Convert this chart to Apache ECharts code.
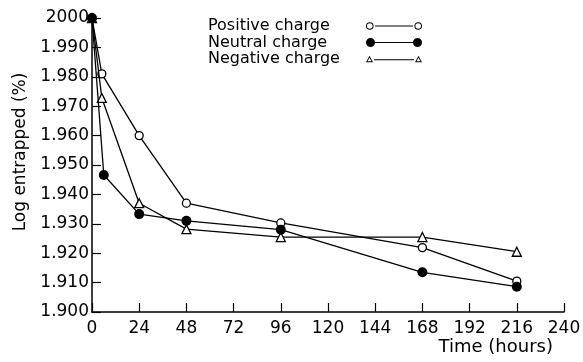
<!DOCTYPE html>
<html>
<head>
<meta charset="utf-8">
<script src="https://cdn.jsdelivr.net/npm/echarts@6/dist/echarts.min.js"></script>
<style>
  html, body { margin: 0; padding: 0; background: #fff; }
  #chart { width: 583px; height: 362px; }
</style>
</head>
<body>
<div id="chart"></div>
<script>
// data (time in hours, log % entrapped)
const seriesNames = ['Positive charge', 'Neutral charge', 'Negative charge']
const positiveTime = [0, 5, 24, 48, 96, 168, 216]
const positiveValues = [2.000, 1.981, 1.960, 1.937, 1.9303, 1.9219, 1.9105]
const neutralTime = [0, 6, 24, 48, 96, 168, 216]
const neutralValues = [2.000, 1.9466, 1.9333, 1.931, 1.928, 1.9135, 1.9086]
const negativeTime = [0, 5, 24, 48, 96, 168, 216]
const negativeValues = [2.000, 1.9728, 1.937, 1.9282, 1.9255, 1.9255, 1.9205]

const font = 'DejaVu Sans'

// legend icons: symbol - line - symbol
const ring = (cx, cy, r, ri) =>
  `M${cx - r} ${cy} A${r} ${r} 0 1 1 ${cx + r} ${cy} A${r} ${r} 0 1 1 ${cx - r} ${cy} Z ` +
  `M${cx - ri} ${cy} A${ri} ${ri} 0 1 0 ${cx + ri} ${cy} A${ri} ${ri} 0 1 0 ${cx - ri} ${cy} Z `
const disc = (cx, cy, r) =>
  `M${cx - r} ${cy} A${r} ${r} 0 1 1 ${cx + r} ${cy} A${r} ${r} 0 1 1 ${cx - r} ${cy} Z `
const tri = (x) =>
  `M${x} 8.5 L${x + 3.5} 2 L${x + 7} 8.5 Z M${x + 1.5} 7.6 L${x + 5.5} 7.6 L${x + 3.5} 4 Z `
const bar = (x1, x2, y) => `M${x1} ${y - 0.6} L${x2} ${y - 0.6} L${x2} ${y + 0.6} L${x1} ${y + 0.6} Z`

const icons = [
  'path://' + ring(3.8, 4.5, 3.8, 2.8) + ring(52.2, 4.5, 3.8, 2.8) + bar(9, 47, 4.5),
  'path://' + disc(4.5, 4.5, 4.5) + disc(51.5, 4.5, 4.5) + bar(9, 47, 4.5),
  'path://' + tri(0) + tri(49) + bar(8, 48, 6)
]

const chart = echarts.init(document.getElementById('chart'))

const pairs = (t, v) => t.map((x, i) => [x, v[i]])

chart.setOption({
  backgroundColor: '#fff',
  animation: false,
  grid: { left: 92, right: 19, top: 18, bottom: 50, containLabel: false, outerBoundsMode: 'none' },
  legend: {
    orient: 'vertical',
    left: 208,
    top: 18,
    padding: 0,
    align: 'right',
    itemWidth: 56,
    itemHeight: 9,
    itemGap: 0.5,
    selectedMode: false,
    itemStyle: { color: '#000', borderWidth: 0 },
    data: seriesNames.map((n, i) => ({ name: n, icon: icons[i] })),
    formatter: (name) => '{t|' + name + '}',
    textStyle: {
      color: '#000',
      fontFamily: font,
      fontSize: 16,
      rich: { t: { width: 153, align: 'left', fontFamily: font, fontSize: 16, lineHeight: 16 } }
    }
  },
  xAxis: {
    type: 'value',
    min: 0,
    max: 240,
    interval: 24,
    name: 'Time (hours)',
    nameLocation: 'end',
    nameGap: -11,
    nameMoveOverlap: false,
    nameTextStyle: {
      color: '#000', fontFamily: font, fontSize: 18,
      align: 'right', verticalAlign: 'top', padding: [26, 0, 0, 0]
    },
    axisLine: { lineStyle: { color: '#000', width: 1.5 } },
    axisTick: { inside: true, length: 9, lineStyle: { color: '#000', width: 1.2 } },
    axisLabel: { color: '#000', fontFamily: font, fontSize: 17, margin: 8 },
    splitLine: { show: false }
  },
  yAxis: {
    type: 'value',
    min: 1.9,
    max: 2.0,
    interval: 0.01,
    name: 'Log entrapped (%)',
    nameLocation: 'middle',
    nameGap: 63,
    nameTextStyle: {
      color: '#000', fontFamily: font, fontSize: 17, padding: [0, 0, 0, 26]
    },
    axisLine: { show: true, lineStyle: { color: '#000', width: 1.5 } },
    axisTick: { show: true, inside: true, length: 9, lineStyle: { color: '#000', width: 1.2 } },
    axisLabel: {
      color: '#000', fontFamily: font, fontSize: 17, margin: 3,
      formatter: (v) => (v > 1.9999 ? '2000' : v.toFixed(3))
    },
    splitLine: { show: false }
  },
  series: [
    {
      name: seriesNames[0],
      type: 'line',
      clip: false,
      data: pairs(positiveTime, positiveValues),
      symbol: 'circle',
      symbolSize: 8,
      lineStyle: { color: '#000', width: 1.3 },
      itemStyle: { color: '#fff', borderColor: '#000', borderWidth: 1.3 },
      z: 2
    },
    {
      name: seriesNames[2],
      type: 'line',
      clip: false,
      data: pairs(negativeTime, negativeValues),
      symbol: 'triangle',
      symbolSize: 9,
      lineStyle: { color: '#000', width: 1.3 },
      itemStyle: { color: '#fff', borderColor: '#000', borderWidth: 1.3 },
      z: 3
    },
    {
      name: seriesNames[1],
      type: 'line',
      clip: false,
      data: pairs(neutralTime, neutralValues),
      symbol: 'circle',
      symbolSize: 10,
      lineStyle: { color: '#000', width: 1.3 },
      itemStyle: { color: '#000', borderColor: '#000', borderWidth: 0 },
      z: 4
    }
  ]
})
</script>
</body>
</html>
